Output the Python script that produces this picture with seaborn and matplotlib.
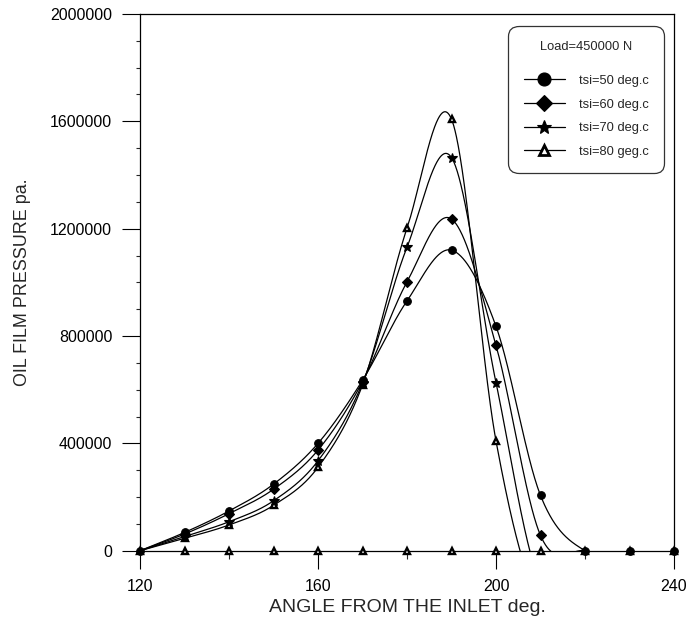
import matplotlib
matplotlib.use("Agg")
import matplotlib.pyplot as plt
from matplotlib.lines import Line2D
from matplotlib.ticker import MultipleLocator, FixedLocator, FuncFormatter
import numpy as np
import pandas as pd
import seaborn as sns

sns.set_style("ticks")
plt.rcParams["font.family"] = ["Liberation Sans", "DejaVu Sans"]

# DATA (values below 0 are cut off by the axis)

angle = [120, 130, 140, 150, 160, 170, 180, 190, 200, 210, 220, 230, 240]

p_tsi50 = [0, 68000, 148000, 248000, 400000, 635000, 931000, 1120000, 836000, 206000, 0, 0, 0]
p_tsi60 = [0, 62000, 138000, 229000, 375000, 630000, 1002000, 1236000, 765000, 57000, 0, 0, 0]
p_tsi70 = [0, 53000, 108000, 186000, 335000, 625000, 1131000, 1465000, 626000, -117000, 0, 0, 0]
p_tsi80 = [0, 46000, 96000, 169000, 311000, 618000, 1202000, 1608000, 409000, -187000, 0, 0, 0]
p_base = [0] * len(angle)

labels = ["tsi=50 deg.c", "tsi=60 deg.c", "tsi=70 deg.c", "tsi=80 geg.c"]
legend_title = "Load=450000 N"

x_ticks = [120, 160, 200, 240]
y_ticks = [0, 400000, 800000, 1200000, 1600000, 2000000]


# smooth curve through the points (Catmull-Rom type cubic)
def smooth(x, y, xs):
    x = np.asarray(x, float)
    y = np.asarray(y, float)
    m = np.gradient(y, x)
    i = np.clip(np.searchsorted(x, xs) - 1, 0, len(x) - 2)
    h = x[i + 1] - x[i]
    t = (xs - x[i]) / h
    h00 = 2 * t**3 - 3 * t**2 + 1
    h10 = t**3 - 2 * t**2 + t
    h01 = -2 * t**3 + 3 * t**2
    h11 = t**3 - t**2
    return h00 * y[i] + h10 * h * m[i] + h01 * y[i + 1] + h11 * h * m[i + 1]


fig = plt.figure(figsize=(6.87, 6.19), dpi=100)
ax = fig.add_axes([0.2038, 0.1103, 0.7773, 0.8671])

series = [
    (p_tsi50, "o", 5.5, "black"),
    (p_tsi60, "D", 5.0, "black"),
    (p_tsi70, "*", 7.0, "black"),
    (p_tsi80, "^", 4.5, "white"),
]

xs = np.linspace(120, 240, 1201)
for vals, m, ms, fc in series:
    v = np.array(vals, float)
    # the curve stops where the pressure has dropped back to zero
    top = int(np.argmax(v))
    end = angle[top + int(np.argmax(v[top:] <= 0))]
    xx = xs[xs <= end]
    df = pd.DataFrame({"angle": xx, "p": smooth(angle, vals, xx)})
    sns.lineplot(data=df, x="angle", y="p", ax=ax, color="black", linewidth=0.9)

# zero row of markers
ax.plot(angle, p_base, linestyle="none", marker="^", ms=4.5, mfc="white",
        mec="black", mew=1.7, clip_on=False, zorder=3)

for vals, m, ms, fc in reversed(series):
    v = np.array(vals, float)
    a = np.array(angle, float)
    keep = v > 0 if m != "o" else v >= 0
    ax.plot(a[keep], v[keep], linestyle="none", marker=m, ms=ms, mfc=fc,
            mec="black", mew=1.7 if m == "^" else 0.8, clip_on=False, zorder=4)

ax.set_xlim(120, 240)
ax.set_ylim(0, 2000000)
ax.xaxis.set_major_locator(FixedLocator(x_ticks))
ax.xaxis.set_minor_locator(MultipleLocator(20))
ax.yaxis.set_major_locator(FixedLocator(y_ticks))
ax.yaxis.set_minor_locator(MultipleLocator(100000))
ax.yaxis.set_major_formatter(FuncFormatter(lambda v, p: f"{int(v)}"))

ax.tick_params(which="major", direction="out", length=13, width=0.8,
               labelsize=11.5, color="black", labelcolor="black")
ax.tick_params(axis="y", which="major", pad=7)
ax.tick_params(axis="x", which="major", pad=7)
ax.tick_params(axis="y", which="minor", direction="out", length=3, width=0.8)
ax.tick_params(axis="x", which="minor", direction="out", length=6, width=0.8)

for s in ax.spines.values():
    s.set_visible(True)
    s.set_linewidth(0.9)
    s.set_color("black")

ax.set_xlabel("ANGLE FROM THE INLET deg.", fontsize=14, labelpad=4)
ax.set_ylabel("OIL FILM PRESSURE pa.", fontsize=12.9, labelpad=14)

handles = []
for (vals, m, ms, fc), lab in zip(series, labels):
    handles.append(Line2D([], [], color="black", linewidth=0.9, marker=m,
                          ms=ms * 1.7 if m != "*" else ms * 1.5, mfc=fc,
                          mec="black", mew=2.0 if m == "^" else 0.8, label=lab))

leg = ax.legend(handles=handles, title=legend_title, loc="upper right",
                bbox_to_anchor=(0.981, 0.978), borderaxespad=0,
                fontsize=9.3, title_fontsize=9.3, frameon=True, fancybox=True,
                handlelength=3.2, handletextpad=1.05, labelspacing=0.9,
                borderpad=1.2)
leg._legend_box.sep = 15.5
leg.get_frame().set_edgecolor("black")
leg.get_frame().set_linewidth(0.9)
leg.get_frame().set_boxstyle("round", pad=0, rounding_size=0.8)

plt.savefig("out.png", dpi=100)
